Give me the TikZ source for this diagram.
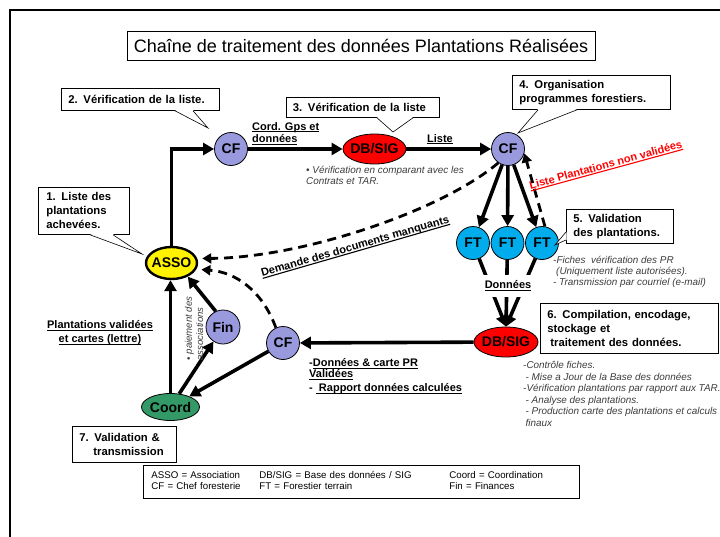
\documentclass[tikz,border=0pt]{standalone}
\usepackage{fontspec}
\setmainfont{Liberation Sans}
\usetikzlibrary{arrows.meta,shapes.geometric,calc}
\definecolor{cfcol}{RGB}{153,153,221}
\definecolor{ftcol}{RGB}{0,172,236}
\definecolor{coordcol}{RGB}{51,153,102}
\definecolor{notecol}{RGB}{60,60,60}
\newcommand\xfbox{\bfseries\fontsize{11.3}{14}\selectfont}
\newcommand\xflab{\bfseries\fontsize{11}{12.5}\selectfont}
\newcommand\xfnote{\itshape\fontsize{9.9}{11.2}\selectfont}
\newcommand\xfnode{\bfseries\fontsize{14}{16}\selectfont}
\newcommand\ulx[1]{\setbox0\hbox{#1}\rlap{\rule[-2.2pt]{\wd0}{1.1pt}}\box0}
\tikzset{
  cfnode/.style={circle, draw, line width=0.8pt, fill=cfcol, minimum size=33pt, inner sep=0pt, font=\xfnode},
  ftnode/.style={circle, draw, line width=0.8pt, fill=ftcol, minimum size=33pt, inner sep=0pt, font=\xfnode},
  dbnode/.style={ellipse, draw, line width=0.8pt, fill=red, minimum width=63pt, minimum height=30pt, inner sep=0pt, font=\xfnode},
  assonode/.style={ellipse, draw, line width=2.4pt, fill=yellow, minimum width=51pt, minimum height=32pt, inner sep=0pt, font=\xfnode},
  coordnode/.style={ellipse, draw, line width=0.8pt, fill=coordcol, minimum width=58pt, minimum height=27pt, inner sep=0pt, font=\xfnode},
  callbox/.style={draw, line width=0.8pt, fill=white, align=left, inner xsep=7pt, inner ysep=0pt, font=\xfbox, anchor=north west},
  callline/.style={line width=0.6pt},
  thickarrow/.style={line width=3.6pt, -{Triangle[length=11pt,width=12pt]}},
  dasharrow/.style={line width=2.8pt, dash pattern=on 9pt off 6pt, -{Triangle[length=9pt,width=10pt]}},
  lab/.style={font=\xflab, align=left, inner sep=0pt},
  note/.style={font=\xfnote, text=notecol, align=left, inner sep=0pt},
}
\begin{document}
\begin{tikzpicture}[x=1pt,y=-1pt]
\useasboundingbox (0,0) rectangle (720,536);
\draw[line width=1.5pt] (10,537) -- (10,10) -- (721,10);

% title
\node[draw, line width=0.8pt, minimum width=468pt, minimum height=29pt, inner sep=0pt,
      font=\fontsize{18}{20}\selectfont] (title) at (361,45.5)
      {Chaîne de traitement des données Plantations Réalisées};

% nodes
\node[cfnode] (CF1) at (231,149) {CF};
\node[dbnode] (DB1) at (374.5,149) {\makebox[0pt]{DB/SIG}};
\node[cfnode] (CF2) at (508,149) {CF};
\node[ftnode] (FT1) at (473,243) {FT};
\node[ftnode] (FT2) at (507.5,243) {FT};
\node[ftnode] (FT3) at (542,243) {FT};
\node[dbnode, minimum width=64pt] (DB2) at (506,342) {\makebox[0pt]{DB/SIG}};
\node[cfnode] (CF3) at (283,343) {CF};
\node[assonode] (ASSO) at (171.5,263) {\makebox[0pt]{ASSO}};
\node[cfnode, minimum size=34pt] (FIN) at (223,327) {Fin};
\node[coordnode] (COORD) at (170.5,407) {\makebox[0pt]{Coord}};

% solid connectors
\draw[thickarrow] (ASSO.north) |- (CF1.west);
\draw[thickarrow] (CF1) -- (DB1);
\draw[thickarrow] (DB1) -- (CF2);
\draw[thickarrow] (CF2) -- (FT1);
\draw[thickarrow] (CF2) -- (FT2);
\draw[thickarrow] (CF2) -- (FT3);
\draw[thickarrow] (FT1) -- (DB2.north);
\draw[thickarrow] (FT2) -- (DB2.north);
\draw[thickarrow] (FT3) -- (DB2.north);
\draw[thickarrow] (DB2) -- (CF3);
\draw[thickarrow] (CF3) -- (COORD);
\draw[thickarrow] (COORD) -- (FIN);
\draw[thickarrow] (FIN.115) -- (ASSO.-40);
\draw[thickarrow] (COORD.north) -- (COORD.north |- ASSO.south);

% dashed connectors
\draw[dasharrow] (FT3.80) -- (CF2.-15);
\draw[dasharrow, shorten >=5pt] (CF2.-125) .. controls (440,212) and (300,258) .. (ASSO.10);
\draw[dasharrow, shorten >=5pt] (CF3.115) .. controls (262,290) and (235,272) .. (ASSO.-14);

% connector labels (base anchor = baseline of the last line)
\node[lab, anchor=base west] (lcord) at (252,142.5) {\ulx{Cord. Gps et}\\\ulx{données}};
\node[lab, anchor=base] (lliste) at (440,142) {\ulx{Liste}};
\node[lab, fill=white, inner xsep=2pt, inner ysep=6pt] (ldon) at (508,286) {\ulx{Données}};
\node[lab, anchor=base west, font=\bfseries\fontsize{11}{11}\selectfont] (lrap) at (309,391.5) {-\ulx{Données \& carte PR}\\\ulx{Validées}\\[3pt]- \ulx{\ Rapport données calculées}};
\node[lab, align=center, font=\bfseries\fontsize{11}{14}\selectfont] (lplant) at (100,333) {\ulx{Plantations validées}\\\ulx{et cartes (lettre)}};
\node[lab, anchor=base, rotate=16.1] (ldem) at (356,249.7) {\ulx{Demande des documents manquants}};
\node[lab, anchor=base, rotate=15.3, text=red] (lnon) at (606.7,168.5) {\ulx{Liste Plantations non validées}};
\node[note, rotate=90, font=\itshape\fontsize{9.6}{11.2}\selectfont] (lpai) at (194,328.5) {• paiement des\\associations};

% notes
\node[note, anchor=base west] (n3) at (306,184.7) {• Vérification en comparant avec les\\Contrats et TAR.};
\node[note, anchor=base west, font=\itshape\fontsize{9.9}{11}\selectfont] (n5) at (553,285.5)
  {-Fiches\ \ vérification des PR\\\hspace*{3pt}(Uniquement liste autorisées).\\- Transmission par courriel (e-mail)};
\node[note, anchor=base west, font=\itshape\fontsize{9.9}{11.6}\selectfont] (n6) at (523,426.5)
  {-Contrôle fiches.\\\hspace*{2.5pt}- Mise a Jour de la Base des données\\-Vérification plantations par rapport aux TAR.\\\hspace*{2.5pt}- Analyse des plantations.\\\hspace*{2.5pt}- Production carte des plantations et calculs\\\hspace*{2.5pt}finaux};

% callout boxes
\node[callbox, minimum width=158pt, minimum height=22pt, text width=144pt] (b2) at (61,88) {2. Vérification de la liste.};
\coordinate (t2) at (208,128);
\fill[white] ($(b2.south west)+(114,-0.7)$) -- (t2) -- ($(b2.south west)+(132,-0.7)$) -- cycle;
\draw[callline] ($(b2.south west)+(114,0)$) -- (t2) -- ($(b2.south west)+(132,0)$);

\node[callbox, minimum width=153pt, minimum height=20pt, text width=140pt, inner xsep=6.5pt] (b3) at (286,97) {3. Vérification de la liste};
\coordinate (t3) at (393,132);
\fill[white] ($(b3.south west)+(91,-0.7)$) -- (t3) -- ($(b3.south west)+(127,-0.7)$) -- cycle;
\draw[callline] ($(b3.south west)+(91,0)$) -- (t3) -- ($(b3.south west)+(127,0)$);

\node[callbox, minimum width=158pt, minimum height=34pt, text width=144pt] (b4) at (512,75) {4. Organisation\\programmes forestiers.};
\coordinate (t4) at (518,133);
\fill[white] ($(b4.south west)+(26,-0.7)$) -- (t4) -- ($(b4.south west)+(65,-0.7)$) -- cycle;
\draw[callline] ($(b4.south west)+(26,0)$) -- (t4) -- ($(b4.south west)+(65,0)$);

\node[callbox, minimum width=91pt, minimum height=47pt, text width=75pt, inner xsep=8pt] (b1) at (38,187) {1. Liste des\\plantations\\achevées.};
\coordinate (t1) at (142,254);
\fill[white] ($(b1.south west)+(52,-0.7)$) -- (t1) -- ($(b1.south west)+(75,-0.7)$) -- cycle;
\draw[callline] ($(b1.south west)+(52,0)$) -- (t1) -- ($(b1.south west)+(75,0)$);

\node[callbox, minimum width=107pt, minimum height=34pt, text width=93pt] (b5) at (566,209) {5. Validation\\des plantations.};
\coordinate (t5) at (555,245);
\fill[white] ($(b5.north west)+(0.7,23)$) -- (t5) -- ($(b5.north west)+(0.7,31)$) -- cycle;
\draw[callline] ($(b5.north west)+(0,23)$) -- (t5) -- ($(b5.north west)+(0,31)$);

\node[callbox, minimum width=178pt, minimum height=50pt, text width=164pt] (b6) at (540,303) {6. Compilation, encodage,\\stockage et\\\hspace*{3pt}traitement des données.};

\node[callbox, minimum width=104pt, minimum height=36pt, text width=90pt] (b7) at (72,426) {7. Validation \&\\\hspace*{14pt}transmission};

% legend
\node[draw, line width=0.8pt, anchor=north west, minimum width=436pt, minimum height=33pt, text width=420pt,
      inner xsep=8pt, inner ysep=0pt, align=left, font=\fontsize{9.7}{11}\selectfont] (legend) at (143,465)
  {\begin{tabular}{@{}p{108pt}@{}p{190pt}@{}l@{}}
   ASSO = Association & DB/SIG = Base des données / SIG & Coord = Coordination\\
   CF = Chef foresterie & FT = Forestier terrain & Fin = Finances
   \end{tabular}};
\end{tikzpicture}
\end{document}
